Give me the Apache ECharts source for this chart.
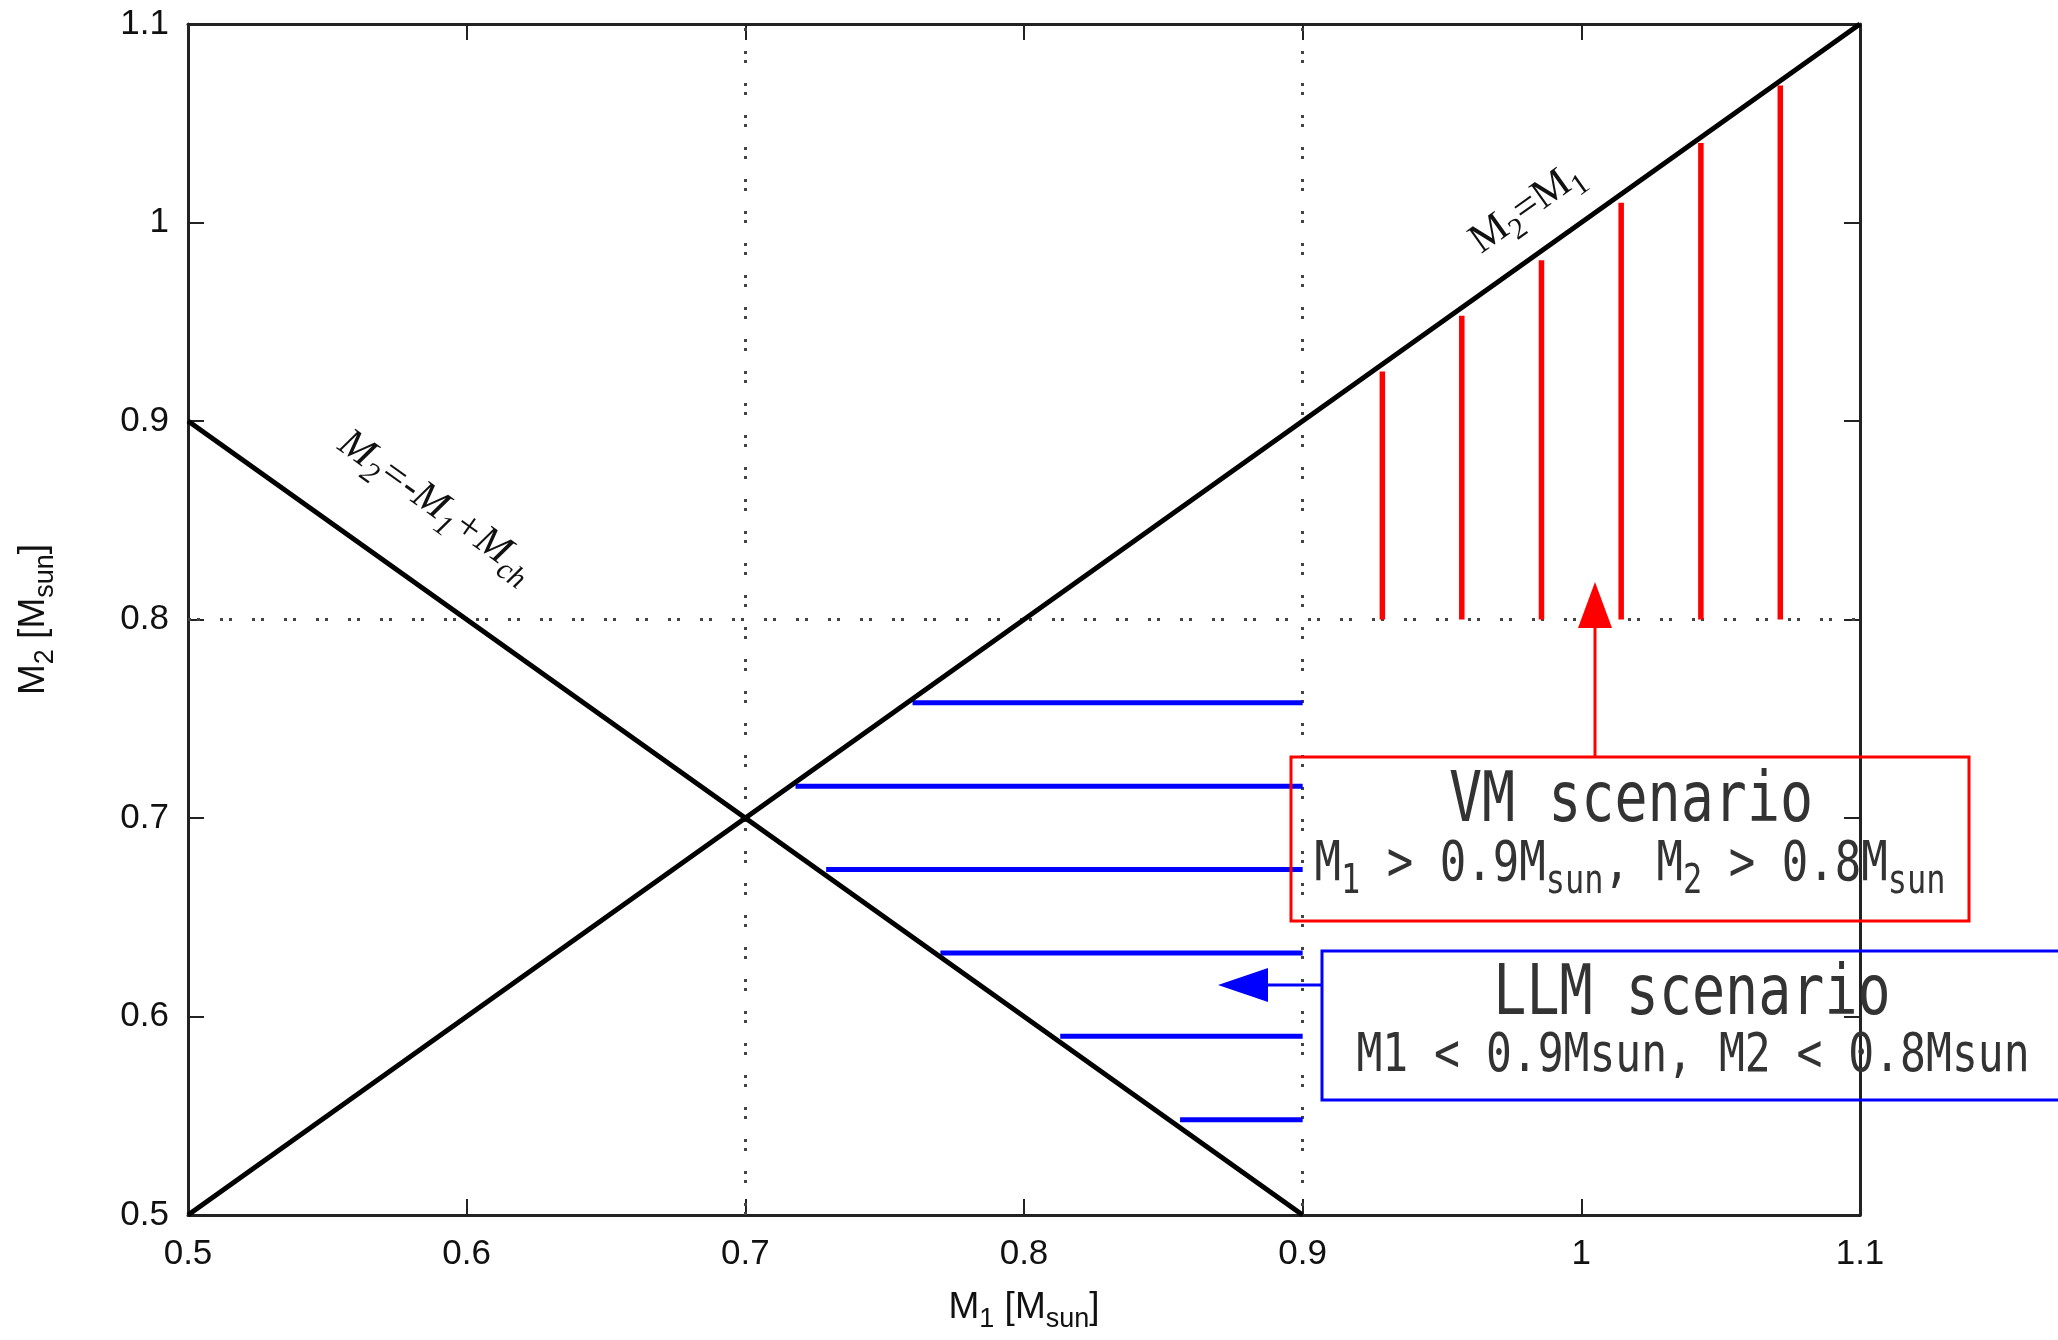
<!DOCTYPE html>
<html>
<head>
<meta charset="utf-8">
<script src="https://cdn.jsdelivr.net/npm/echarts@6/dist/echarts.min.js"></script>
<style>
html, body { margin: 0; padding: 0; background: #ffffff; }
#chart { width: 2058px; height: 1340px; }
</style>
</head>
<body>
<div id="chart"></div>
<script>
// ---- data ----
const axisMin = 0.5;
const axisMax = 1.1;
const tickStep = 0.1;
const equalMassLine = [[0.5, 0.5], [1.1, 1.1]];          // M2 = M1
const chandraLine = [[0.5, 0.9], [0.9, 0.5]];            // M2 = -M1 + Mch
const vmX = [0.9286, 0.9571, 0.9857, 1.0143, 1.0429, 1.0714];
const vmBottom = 0.8;
const vmTop = [0.925, 0.953, 0.981, 1.010, 1.040, 1.069];
const llmY = [0.758, 0.716, 0.674, 0.632, 0.590, 0.548];
const llmLeft = [0.760, 0.718, 0.729, 0.770, 0.813, 0.856];
const llmRight = 0.9;
const gridXValues = [0.7, 0.9];
const gridYValues = [0.8];

// ---- styles ----
const SANS = 'Liberation Sans';
const SERIF = 'Liberation Serif';
const MONO = 'DejaVu Sans Mono';
const AXIS_COLOR = '#222222';
const TEXT_COLOR = '#111111';

const chart = echarts.init(document.getElementById('chart'), null, { renderer: 'canvas' });

function fmt(v) { return String(+v.toFixed(2)); }

function subStyle(fam, size, shift, extra) {
  return Object.assign({ fontFamily: fam, fontSize: size, padding: [2 * shift, 0, 0, 0], lineHeight: 1 }, extra || {});
}

function makeAxis(isX, primary) {
  return {
    type: 'value',
    position: isX ? (primary ? 'bottom' : 'top') : (primary ? 'left' : 'right'),
    min: axisMin,
    max: axisMax,
    interval: tickStep,
    axisLine: { show: true, onZero: false, lineStyle: { color: AXIS_COLOR, width: 3 } },
    axisTick: { show: true, inside: true, length: 16, lineStyle: { color: AXIS_COLOR, width: 2 } },
    axisLabel: {
      show: primary,
      showMinLabel: true,
      showMaxLabel: true,
      margin: isX ? 22 : 19,
      fontSize: 35,
      fontFamily: SANS,
      color: TEXT_COLOR,
      formatter: fmt
    },
    splitLine: { show: false },
    name: primary ? (isX ? 'M{s|1} [M{s|sun}]' : 'M{s|2} [M{s|sun}]') : '',
    nameLocation: 'middle',
    nameGap: isX ? 74 : 136,
    nameTextStyle: {
      fontSize: 37,
      fontFamily: SANS,
      color: TEXT_COLOR,
      rich: { s: subStyle(SANS, 27, 12, { color: TEXT_COLOR }) }
    }
  };
}

const segRender = function (vertical) {
  return function (params, api) {
    let p1, p2;
    if (vertical) {
      p1 = api.coord([api.value(0), api.value(1)]);
      p2 = api.coord([api.value(0), api.value(2)]);
    } else {
      p1 = api.coord([api.value(0), api.value(2)]);
      p2 = api.coord([api.value(1), api.value(2)]);
    }
    return {
      type: 'line',
      shape: { x1: p1[0], y1: p1[1], x2: p2[0], y2: p2[1] },
      style: { stroke: vertical ? '#ff0000' : '#0000ff', lineWidth: vertical ? 5.5 : 5 }
    };
  };
};

const dotted = { color: '#444444', width: 3, type: [3, 6, 3, 20] };

const option = {
  animation: false,
  backgroundColor: '#ffffff',
  grid: { left: 188, right: 198, top: 24, bottom: 125, containLabel: false, outerBoundsMode: 'none' },
  xAxis: [makeAxis(true, true), makeAxis(true, false)],
  yAxis: [makeAxis(false, true), makeAxis(false, false)],
  series: [
    {
      type: 'line',
      data: equalMassLine,
      showSymbol: false,
      symbol: 'none',
      lineStyle: { color: '#000000', width: 5 },
      z: 3,
      markLine: {
        silent: true,
        symbol: ['none', 'none'],
        label: { show: false },
        lineStyle: dotted,
        z: 1,
        data: gridXValues.map(v => ({ xAxis: v })).concat(gridYValues.map(v => ({ yAxis: v })))
      }
    },
    {
      type: 'line',
      data: chandraLine,
      showSymbol: false,
      symbol: 'none',
      lineStyle: { color: '#000000', width: 5 },
      z: 3
    },
    {
      type: 'custom',
      renderItem: segRender(true),
      encode: { x: 0, y: [1, 2] },
      data: vmX.map((x, i) => [x, vmBottom, vmTop[i]]),
      z: 2
    },
    {
      type: 'custom',
      renderItem: segRender(false),
      encode: { x: [0, 1], y: 2 },
      data: llmY.map((y, i) => [llmLeft[i], llmRight, y]),
      z: 2
    }
  ],
  graphic: [
    // line labels
    {
      type: 'text', x: 1527, y: 208, rotation: 35.46 * Math.PI / 180, z: 10,
      style: {
        text: 'M{s|2}=M{s|1}', fontFamily: SERIF, fontSize: 42, fill: '#111',
        textAlign: 'center', textVerticalAlign: 'middle',
        rich: { s: subStyle(SERIF, 30, 13) }
      }
    },
    {
      type: 'text', x: 436, y: 506, rotation: -35.46 * Math.PI / 180, z: 10,
      style: {
        text: 'M{s|2}=-M{s|1}+M{s|ch}', fontFamily: SERIF, fontStyle: 'italic', fontSize: 41, fill: '#111',
        textAlign: 'center', textVerticalAlign: 'middle',
        rich: { s: subStyle(SERIF, 30, 13, { fontStyle: 'italic' }) }
      }
    },
    // VM box + arrow
    {
      type: 'rect', z: 10,
      shape: { x: 1291, y: 757, width: 678, height: 164 },
      style: { fill: 'rgba(0,0,0,0)', stroke: '#ff0000', lineWidth: 3 }
    },
    {
      type: 'line', z: 10,
      shape: { x1: 1595, y1: 757, x2: 1595, y2: 624 },
      style: { stroke: '#ff0000', lineWidth: 3 }
    },
    {
      type: 'polygon', z: 10,
      shape: { points: [[1595, 582], [1578, 628], [1612, 628]] },
      style: { fill: '#ff0000' }
    },
    {
      type: 'text', x: 1631, y: 803, scaleY: 1.25, z: 10,
      style: {
        text: 'VM scenario', fontFamily: MONO, fontSize: 55, fill: '#333',
        textAlign: 'center', textVerticalAlign: 'middle'
      }
    },
    {
      type: 'text', x: 1630, y: 866, scaleY: 1.25, z: 10,
      style: {
        text: 'M{s|1} > 0.9M{s|sun}, M{s|2} > 0.8M{s|sun}', fontFamily: MONO, fontSize: 44, fill: '#333',
        textAlign: 'center', textVerticalAlign: 'middle',
        rich: { s: subStyle(MONO, 32, 13) }
      }
    },
    // LLM box + arrow
    {
      type: 'rect', z: 10,
      shape: { x: 1322, y: 951, width: 800, height: 149 },
      style: { fill: 'rgba(0,0,0,0)', stroke: '#0000ff', lineWidth: 3 }
    },
    {
      type: 'line', z: 10,
      shape: { x1: 1322, y1: 985, x2: 1264, y2: 985 },
      style: { stroke: '#0000ff', lineWidth: 3 }
    },
    {
      type: 'polygon', z: 10,
      shape: { points: [[1218, 985], [1268, 968], [1268, 1002]] },
      style: { fill: '#0000ff' }
    },
    {
      type: 'text', x: 1692, y: 996, scaleY: 1.25, z: 10,
      style: {
        text: 'LLM scenario', fontFamily: MONO, fontSize: 55, fill: '#333',
        textAlign: 'center', textVerticalAlign: 'middle'
      }
    },
    {
      type: 'text', x: 1693, y: 1057, scaleY: 1.25, z: 10,
      style: {
        text: 'M1 < 0.9Msun, M2 < 0.8Msun', fontFamily: MONO, fontSize: 43, fill: '#333',
        textAlign: 'center', textVerticalAlign: 'middle'
      }
    }
  ]
};

chart.setOption(option);
</script>
</body>
</html>
